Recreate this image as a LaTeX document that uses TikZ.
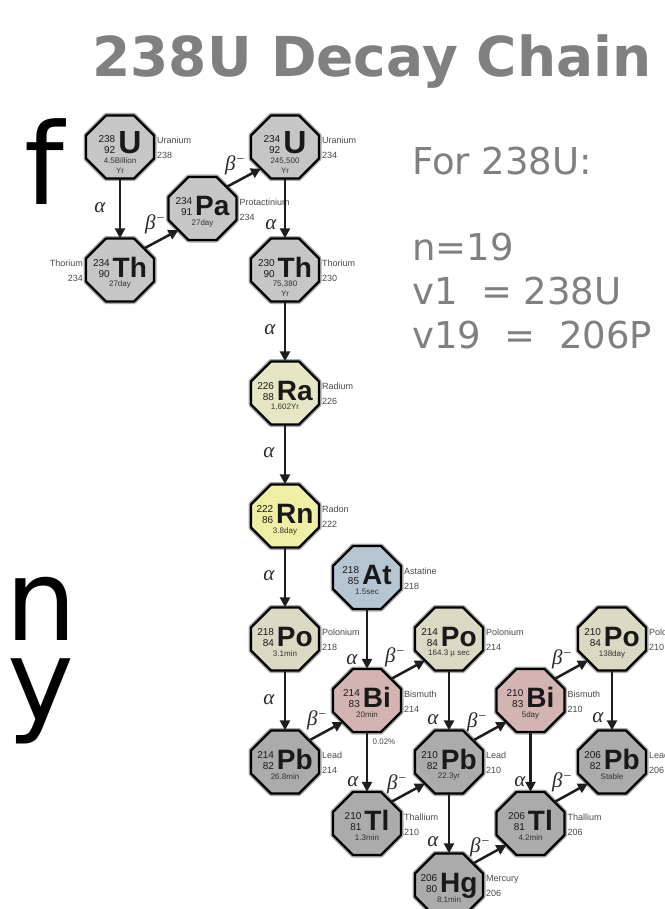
\documentclass[tikz,border=0pt]{standalone}
\usepackage{fontspec}
\setmainfont{Liberation Sans}
\newfontfamily\slidefont{DejaVu Sans}
\newfontfamily\greekfont{Liberation Serif}
\usetikzlibrary{calc,arrows.meta}
\definecolor{slidegray}{HTML}{808080}
\definecolor{grayA}{HTML}{C6C6C6}
\definecolor{grayB}{HTML}{ABABAB}
\definecolor{raC}{HTML}{E6E6C4}
\definecolor{rnC}{HTML}{EEEEA4}
\definecolor{atC}{HTML}{B6C5D2}
\definecolor{poC}{HTML}{D9D9C4}
\definecolor{biC}{HTML}{D4B3B3}
\definecolor{arrowc}{HTML}{1E1E1E}
\definecolor{elabc}{HTML}{4A4A4A}
\definecolor{dlabc}{HTML}{2A2A2A}
\newcommand\numfont{\fontsize{10}{11}\selectfont}
\newcommand\symfont{\fontsize{28}{28}\selectfont\bfseries}
\newcommand\symU{{\fontsize{32}{32}\selectfont U}}
\newcommand\bminus{β\raisebox{7pt}{\fontsize{14}{14}\selectfont −}}
\tikzset{
  octbox/.style={rectangle, minimum width=68pt, minimum height=63pt, inner sep=0pt, draw=none},
  octhalo/.style={draw=black!55, line width=5pt, line join=round, opacity=0.6},
  octline/.style={draw=black, line width=2.2pt, line join=round},
  idnode/.style={anchor=base, inner sep=0pt, text=black!90},
  hl/.style={anchor=north, align=center, inner sep=0pt, font=\fontsize{8}{10}\selectfont, text=black!80},
  elab/.style={anchor=west, align=left, inner sep=0pt, font=\fontsize{9}{15}\selectfont, text=elabc},
  elabl/.style={anchor=east, align=right, inner sep=0pt, font=\fontsize{9}{15}\selectfont, text=elabc},
  decay/.style={draw=arrowc, line width=2.5pt, -{Triangle[length=10pt,width=10pt]}},
  dlab/.style={inner sep=0pt, font=\greekfont\itshape\fontsize{21}{21}\selectfont, text=dlabc},
  slide/.style={inner sep=0pt, text=slidegray},
}
\newcommand\nuc[8]{%
  \node[octbox] (#1) at (#2,#3) {};
  \draw[octhalo] ($(#1.center)+(-34,-11.5)$) -- ($(#1.center)+(-34,11.5)$) -- ($(#1.center)+(-14,31.5)$) -- ($(#1.center)+(14,31.5)$) -- ($(#1.center)+(34,11.5)$) -- ($(#1.center)+(34,-11.5)$) -- ($(#1.center)+(14,-31.5)$) -- ($(#1.center)+(-14,-31.5)$) -- cycle;
  \filldraw[octline, fill=#4] ($(#1.center)+(-34,-11.5)$) -- ($(#1.center)+(-34,11.5)$) -- ($(#1.center)+(-14,31.5)$) -- ($(#1.center)+(14,31.5)$) -- ($(#1.center)+(34,11.5)$) -- ($(#1.center)+(34,-11.5)$) -- ($(#1.center)+(14,-31.5)$) -- ($(#1.center)+(-14,-31.5)$) -- cycle;
  \node[idnode] (#1-id) at ($(#1.center)+(0,7)$) {{\numfont\begin{tabular}[b]{@{}r@{}}#5\\#6\end{tabular}}\hspace{3pt}{\symfont #7}};
  \node[hl] (#1-hl) at ($(#1.center)+(0,11)$) {#8};
}
\newcommand\elabel[2]{\node[elab] (#1-lab) at ($(#1.center)+(37,1)$) {#2};}
\begin{document}
\begin{tikzpicture}[x=1pt,y=-1pt]
\clip (0,0) rectangle (664,909);
\fill[white] (0,0) rectangle (664,909);
% slide text
\node[slide, anchor=base, font=\slidefont\bfseries\fontsize{55}{55}\selectfont] (title) at (372,77) {238U Decay Chain};
\node[slide, anchor=base west, font=\slidefont\fontsize{37}{37}\selectfont] (for) at (412,175) {For 238U:};
\node[slide, anchor=base west, font=\slidefont\fontsize{37}{37}\selectfont] (nline) at (412,260) {n=19};
\node[slide, anchor=base west, font=\slidefont\fontsize{37}{37}\selectfont] (v1line) at (412,304) {v1~~=~238U};
\node[slide, anchor=base west, font=\slidefont\fontsize{37}{37}\selectfont] (v19line) at (412,348) {v19~~=~~206P};
\node[inner sep=0pt, anchor=base west, font=\slidefont\fontsize{113}{113}\selectfont] (bigf) at (24,205) {f};
\node[inner sep=0pt, anchor=base west, font=\slidefont\fontsize{113}{113}\selectfont] (bign) at (5,640) {n};
\node[inner sep=0pt, anchor=base west, font=\slidefont\fontsize{113}{113}\selectfont] (bigy) at (7,720) {y};
% nuclides
\nuc{u238}{120}{147}{grayA}{238}{92}{\symU}{4.5Billion\\Yr}
\nuc{th234}{120}{270}{grayA}{234}{90}{Th}{27day}
\nuc{pa234}{202.5}{208.5}{grayA}{234}{91}{Pa}{27day}
\nuc{u234}{285}{147}{grayA}{234}{92}{\symU}{245,500\\Yr}
\nuc{th230}{285}{270}{grayA}{230}{90}{Th}{75,380\\Yr}
\nuc{ra226}{285}{393}{raC}{226}{88}{Ra}{1,602Yr}
\nuc{rn222}{285}{516}{rnC}{222}{86}{Rn}{3.8day}
\nuc{at218}{367}{577.5}{atC}{218}{85}{At}{1.5sec}
\nuc{po218}{285}{639}{poC}{218}{84}{Po}{3.1min}
\nuc{bi214}{367}{700.5}{biC}{214}{83}{Bi}{20min}
\nuc{po214}{449}{639}{poC}{214}{84}{Po}{164.3 µ sec}
\nuc{pb214}{285}{762}{grayB}{214}{82}{Pb}{26.8min}
\nuc{tl210}{367}{823.5}{grayB}{210}{81}{Tl}{1.3min}
\nuc{pb210}{449}{762}{grayB}{210}{82}{Pb}{22.3yr}
\nuc{hg206}{449}{885}{grayB}{206}{80}{Hg}{8.1min}
\nuc{bi210}{530.5}{700.5}{biC}{210}{83}{Bi}{5day}
\nuc{po210}{612}{639}{poC}{210}{84}{Po}{138day}
\nuc{pb206}{612}{762}{grayB}{206}{82}{Pb}{Stable}
\nuc{tl206}{530.5}{823.5}{grayB}{206}{81}{Tl}{4.2min}
% element labels
\elabel{u238}{Uranium\\238}
\node[elabl] (th234-lab) at ($(th234.center)+(-37,1)$) {Thorium\\234};
\elabel{pa234}{Protactinium\\234}
\elabel{u234}{Uranium\\234}
\elabel{th230}{Thorium\\230}
\elabel{ra226}{Radium\\226}
\elabel{rn222}{Radon\\222}
\elabel{at218}{Astatine\\218}
\elabel{po218}{Polonium\\218}
\elabel{bi214}{Bismuth\\214}
\elabel{po214}{Polonium\\214}
\elabel{pb214}{Lead\\214}
\elabel{tl210}{Thallium\\210}
\elabel{pb210}{Lead\\210}
\elabel{hg206}{Mercury\\206}
\elabel{bi210}{Bismuth\\210}
\elabel{po210}{Polonium\\210}
\elabel{pb206}{Lead\\206}
\elabel{tl206}{Thallium\\206}
% alpha decays
\draw[decay] (u238.south) -- (th234.north);
\draw[decay] (u234.south) -- (th230.north);
\draw[decay] (th230.south) -- (ra226.north);
\draw[decay] (ra226.south) -- (rn222.north);
\draw[decay] (rn222.south) -- (po218.north);
\draw[decay] (po218.south) -- (pb214.north);
\draw[decay] (at218.south) -- (bi214.north);
\draw[decay] (bi214.south) -- (tl210.north);
\draw[decay] (po214.south) -- (pb210.north);
\draw[decay] (pb210.south) -- (hg206.north);
\draw[decay] (po210.south) -- (pb206.north);
\draw[decay] (bi210.south) -- (tl206.north);
% beta decays
\draw[decay] ($(th234.center)+(24,-21.5)$) -- ($(pa234.center)+(-24,21.5)$);
\draw[decay] ($(pa234.center)+(24,-21.5)$) -- ($(u234.center)+(-24,21.5)$);
\draw[decay] ($(pb214.center)+(24,-21.5)$) -- ($(bi214.center)+(-24,21.5)$);
\draw[decay] ($(bi214.center)+(24,-21.5)$) -- ($(po214.center)+(-24,21.5)$);
\draw[decay] ($(tl210.center)+(24,-21.5)$) -- ($(pb210.center)+(-24,21.5)$);
\draw[decay] ($(pb210.center)+(24,-21.5)$) -- ($(bi210.center)+(-24,21.5)$);
\draw[decay] ($(bi210.center)+(24,-21.5)$) -- ($(po210.center)+(-24,21.5)$);
\draw[decay] ($(tl206.center)+(24,-21.5)$) -- ($(pb206.center)+(-24,21.5)$);
\draw[decay] ($(hg206.center)+(24,-21.5)$) -- ($(tl206.center)+(-24,21.5)$);
% decay labels
\node[dlab] (a1) at (100,208) {α};
\node[dlab] (a2) at (271,225) {α};
\node[dlab] (a3) at (270,330) {α};
\node[dlab] (a4) at (269,453) {α};
\node[dlab] (a5) at (269,576) {α};
\node[dlab] (a6) at (269,700) {α};
\node[dlab] (a7) at (352,660) {α};
\node[dlab] (a8) at (353,782) {α};
\node[dlab] (a9) at (433,720) {α};
\node[dlab] (a10) at (433,842) {α};
\node[dlab] (a11) at (598,718) {α};
\node[dlab] (a12) at (520,782) {α};
\node[dlab] (b1) at (155,224) {\bminus};
\node[dlab] (b2) at (235,165) {\bminus};
\node[dlab] (b3) at (317,720) {\bminus};
\node[dlab] (b4) at (395,657) {\bminus};
\node[dlab] (b5) at (397,784) {\bminus};
\node[dlab] (b6) at (477,722) {\bminus};
\node[dlab] (b7) at (562,659) {\bminus};
\node[dlab] (b8) at (562,782) {\bminus};
\node[dlab] (b9) at (480,847) {\bminus};
\node[inner sep=0pt, font=\fontsize{8}{8}\selectfont, text=elabc] (pct) at (384,742) {0.02\%};
\end{tikzpicture}
\end{document}
